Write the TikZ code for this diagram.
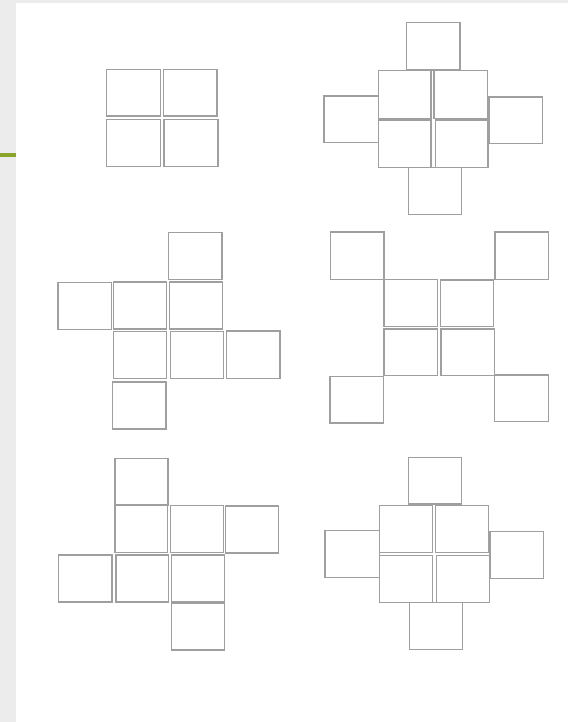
\documentclass[tikz,border=0pt]{standalone}
\usepackage{tikz}
\definecolor{stripgray}{RGB}{236,236,236}
\definecolor{leafgreen}{RGB}{138,165,42}
\tikzset{face/.style={draw=gray!75, line width=0.8pt}}
\begin{document}
\begin{tikzpicture}[x=0.02cm, y=-0.02cm]

% ---------- page (pixel units, y grows downward) ----------
\useasboundingbox (0,0) rectangle (568,722);
\fill[white] (0,0) rectangle (568,722);
\fill[stripgray] (0,0) rectangle (16,722);
\fill[stripgray] (16,0) rectangle (568,3);
\fill[leafgreen] (0,153.5) rectangle (16,157);

% ---------- net 1: 2x2 block ----------
\draw[face] (106.5,69.5) rectangle (160.5,116);
\draw[face] (163.5,69.5) rectangle (217,116);
\draw[face] (106.5,119.5) rectangle (160.5,166.5);
\draw[face] (164,119.5) rectangle (218,166.5);

% ---------- net 2: block with four flaps ----------
\draw[face] (406.5,22.5) rectangle (460,70);
\draw[face] (378.5,70.5) rectangle (431,118.5);
\draw[face] (434,70.5) rectangle (487.5,118.5);
\draw[face] (378.5,120) rectangle (431,167.5);
\draw[face] (435.5,120) rectangle (488,167.5);
\draw[face] (324,96) rectangle (378.5,142.5);
\draw[face] (489,97) rectangle (542.5,143.5);
\draw[face] (408.5,167.5) rectangle (461.5,214.5);

% ---------- net 3: staggered rows ----------
\draw[face] (168.5,232.5) rectangle (222,279.5);
\draw[face] (58,282.5) rectangle (111.5,329.5);
\draw[face] (113.5,282) rectangle (166.5,329);
\draw[face] (169.5,282) rectangle (222.5,329);
\draw[face] (113.5,331.5) rectangle (166.5,378.5);
\draw[face] (170.5,331.5) rectangle (223.5,378.5);
\draw[face] (226.5,331) rectangle (280,378.5);
\draw[face] (112.5,382) rectangle (166,429);

% ---------- net 4: block with corner flaps ----------
\draw[face] (330.5,232) rectangle (384,279.5);
\draw[face] (495,232) rectangle (548.5,279.5);
\draw[face] (384,279.5) rectangle (437.5,326.5);
\draw[face] (440.5,280) rectangle (493.5,326.5);
\draw[face] (384,329) rectangle (437.5,375.5);
\draw[face] (441,329) rectangle (494.5,375.5);
\draw[face] (330,376.5) rectangle (383.5,423);
\draw[face] (494.5,375) rectangle (548.5,421.5);

% ---------- net 5: staggered rows ----------
\draw[face] (115,458.5) rectangle (168,505);
\draw[face] (115,505.5) rectangle (167.5,552.5);
\draw[face] (170.5,505.5) rectangle (223.5,552.5);
\draw[face] (225.5,506) rectangle (278.5,553);
\draw[face] (58.5,555) rectangle (112,602);
\draw[face] (116,555) rectangle (168.5,602);
\draw[face] (171.5,555) rectangle (224.5,602);
\draw[face] (171.5,603.5) rectangle (224.5,650);

% ---------- net 6: block with four flaps ----------
\draw[face] (408.5,457.5) rectangle (461.5,504);
\draw[face] (379.5,505.5) rectangle (432.5,552.5);
\draw[face] (435.5,505.5) rectangle (488.5,552.5);
\draw[face] (379.5,555.5) rectangle (432.5,602.5);
\draw[face] (436.5,555.5) rectangle (489.5,602.5);
\draw[face] (325,530.5) rectangle (379.5,577.5);
\draw[face] (490,531.5) rectangle (543.5,578.5);
\draw[face] (409.5,602.5) rectangle (462.5,649.5);

\end{tikzpicture}
\end{document}
